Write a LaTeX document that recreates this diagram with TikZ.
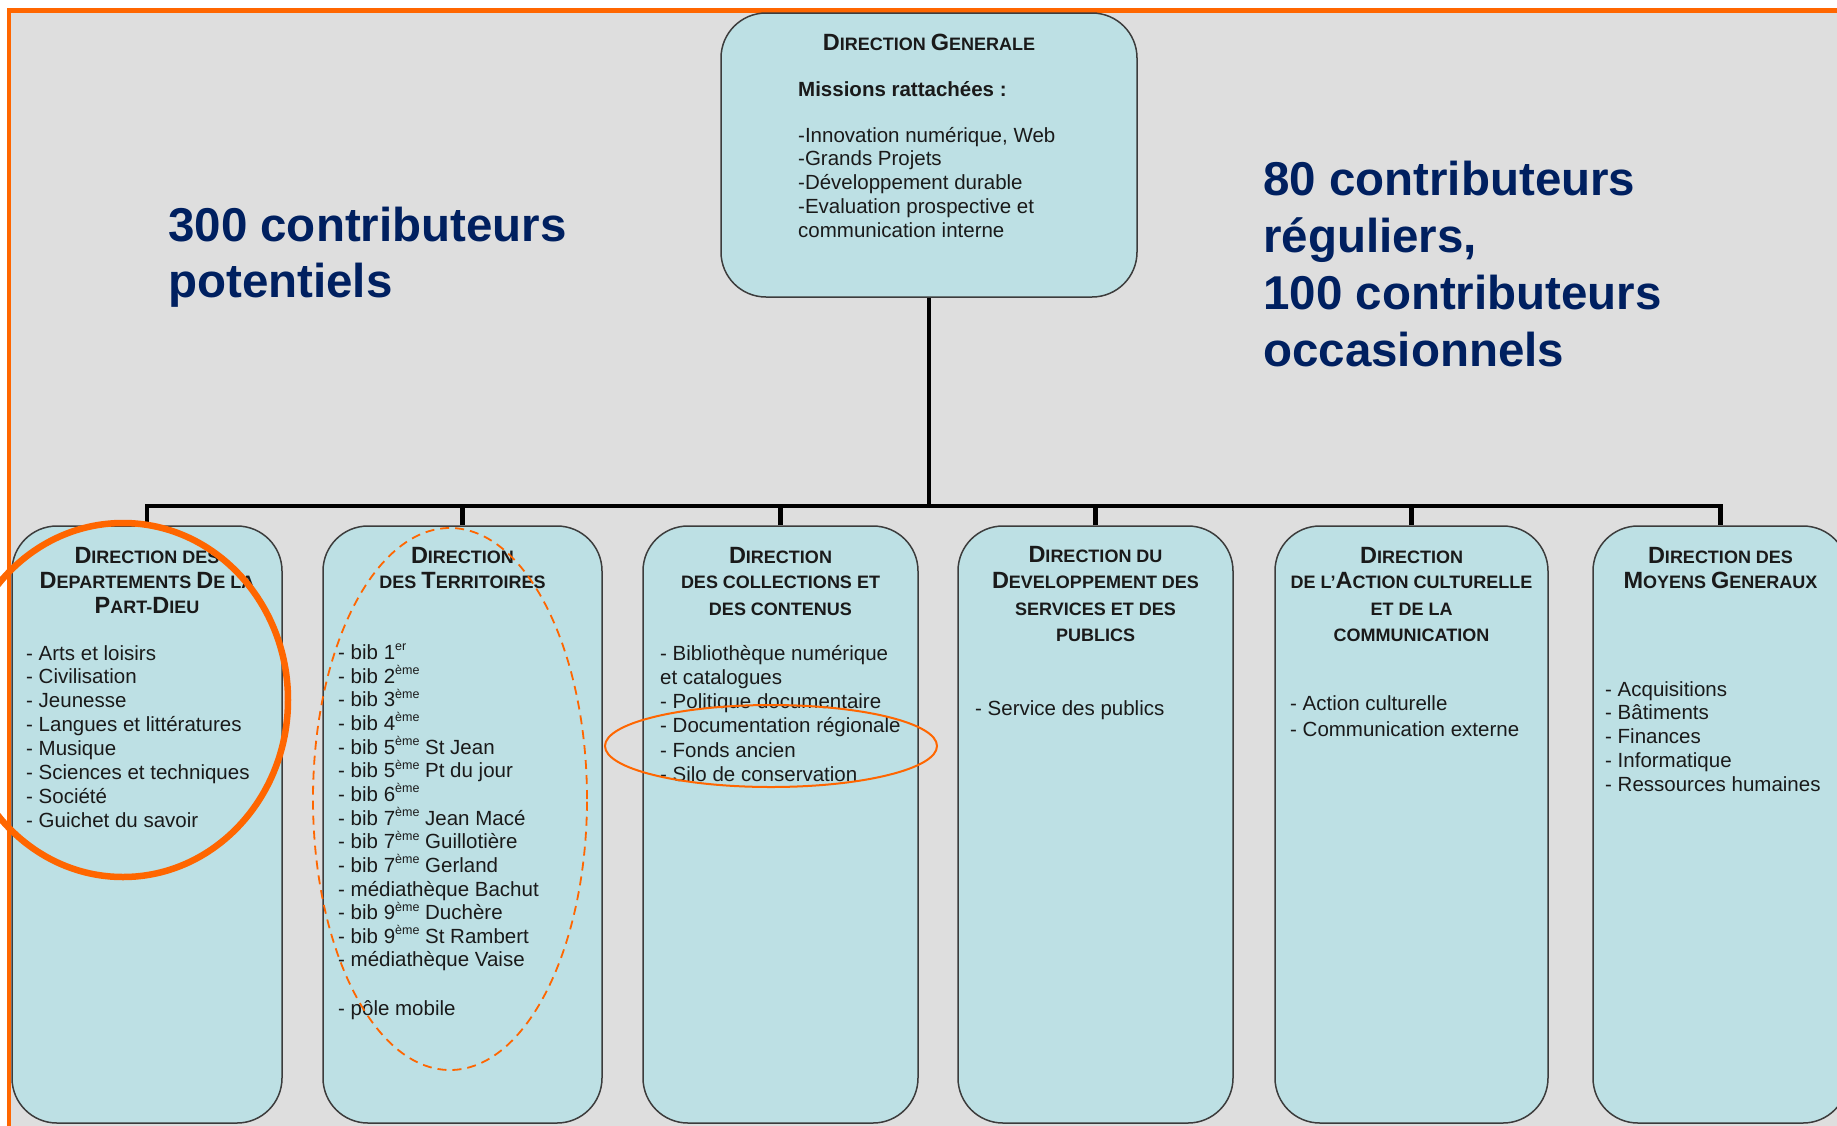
\documentclass[tikz,border=0pt]{standalone}
\usepackage{fontspec}
\setmainfont{Liberation Sans}
\definecolor{bg}{HTML}{DEDEDE}
\definecolor{boxfill}{HTML}{BDE0E4}
\definecolor{boxline}{HTML}{3C3C3C}
\definecolor{orng}{HTML}{FF6600}
\definecolor{navy}{HTML}{002060}
\definecolor{txt}{HTML}{1A1A1A}
\newcommand\Bc[1]{{\fontsize{23.5}{25}\selectfont #1}}
\newcommand\supx[1]{\raisebox{0.42em}{\fontsize{12.5}{12.5}\selectfont #1}}
\tikzset{
  boxst/.style={draw=boxline, line width=1.5pt, fill=boxfill, rounded corners=45pt, inner sep=0pt},
  ttl/.style={font=\fontsize{18}{25}\selectfont\bfseries, text=txt, inner sep=0pt, anchor=base},
  lst/.style={font=\fontsize{20.5}{24}\selectfont, text=txt, inner sep=0pt, anchor=base west},
  big/.style={font=\fontsize{47.5}{52}\selectfont\bfseries, text=navy, inner sep=0pt, anchor=base west},
  conn/.style={line width=4.5pt, draw=black},
  ringst/.style={draw=orng}
}
\begin{document}
\begin{tikzpicture}[x=1pt,y=-1pt]
\useasboundingbox (0,0) rectangle (1837,1125);
\clip (0,0) rectangle (1837,1125);
\fill[white] (0,0) rectangle (1837,1125);
\fill[bg] (9,10.5) rectangle (1900,1200);
\draw[orng, line width=4.3pt] (9,1200) -- (9,10.5) -- (1900,10.5);

% boxes
\node[boxst, minimum width=416pt, minimum height=284pt] (dg) at (929,155) {};
\node[boxst, minimum width=270pt, minimum height=597pt] (b1) at (147,824.5) {};
\node[boxst, minimum width=279pt, minimum height=597pt] (b2) at (462.5,824.5) {};
\node[boxst, minimum width=275pt, minimum height=597pt] (b3) at (780.5,824.5) {};
\node[boxst, minimum width=275pt, minimum height=597pt] (b4) at (1095.5,824.5) {};
\node[boxst, minimum width=273pt, minimum height=597pt] (b5) at (1411.5,824.5) {};
\node[boxst, minimum width=255pt, minimum height=597pt] (b6) at (1720.5,824.5) {};

% connectors
\coordinate (bus) at (929,506);
\draw[conn] (dg.south) -- (dg.south |- bus);
\draw[conn] (b1.north) |- (bus) -| (b6.north);
\foreach \b in {b2,b3,b4,b5} \draw[conn] (\b.north) -- (\b.north |- bus);

% DG text
\node[ttl] (dgt) at (929,50) {\Bc{D}IRECTION \Bc{G}ENERALE};
\node[lst, font=\fontsize{20.5}{24}\selectfont\bfseries] (dgm) at (798,96) {Missions rattachées :};
\foreach \t [count=\i] in {{-Innovation numérique, Web},{-Grands Projets},{-Développement durable},{-Evaluation prospective et},{communication interne}}
  \node[lst] (dgl\i) at (798,{142+23.8*(\i-1)}) {\t};

% big texts
\node[big] (pot1) at (168,241) {300 contributeurs};
\node[big] (pot2) at (168,297) {potentiels};
\node[big] (reg1) at (1263,195) {80 contributeurs};
\node[big] (reg2) at (1263,252) {réguliers,};
\node[big] (reg3) at (1263,309) {100 contributeurs};
\node[big] (reg4) at (1263,366) {occasionnels};

% box 1
\node[ttl] (t1a) at (147,563) {\Bc{D}IRECTION DES};
\node[ttl] (t1b) at (147,588) {\Bc{D}EPARTEMENTS \Bc{D}E LA};
\node[ttl] (t1c) at (147,613) {\Bc{P}ART-\Bc{D}IEU};
\foreach \t [count=\i] in {{- Arts et loisirs},{- Civilisation},{- Jeunesse},{- Langues et littératures},{- Musique},{- Sciences et techniques},{- Société},{- Guichet du savoir}}
  \node[lst] (l1\i) at (26,{660+23.9*(\i-1)}) {\t};

% box 2
\node[ttl] (t2a) at (462.5,563) {\Bc{D}IRECTION};
\node[ttl] (t2b) at (462.5,588) {DES \Bc{T}ERRITOIRES};
\foreach \t [count=\i] in {{- bib 1\supx{er}},{- bib 2\supx{ème}},{- bib 3\supx{ème}},{- bib 4\supx{ème}},{- bib 5\supx{ème} St Jean},{- bib 5\supx{ème} Pt du jour},{- bib 6\supx{ème}},{- bib 7\supx{ème} Jean Macé},{- bib 7\supx{ème} Guillotière},{- bib 7\supx{ème} Gerland},{- médiathèque Bachut},{- bib 9\supx{ème} Duchère},{- bib 9\supx{ème} St Rambert},{- médiathèque Vaise}}
  \node[lst] (l2\i) at (338,{659.5+23.65*(\i-1)}) {\t};
\node[lst] (l2p) at (338,1015) {- pôle mobile};

% box 3
\node[ttl] (t3a) at (780.5,563) {\Bc{D}IRECTION};
\node[ttl] (t3b) at (780.5,588) {DES COLLECTIONS ET};
\node[ttl] (t3c) at (780.5,615) {DES CONTENUS};
\foreach \t [count=\i] in {{- Bibliothèque numérique},{et catalogues},{- Politique documentaire},{- Documentation régionale},{- Fonds ancien},{- Silo de conservation}}
  \node[lst] (l3\i) at (660,{660+24.3*(\i-1)}) {\t};

% box 4
\node[ttl] (t4a) at (1095.5,562) {\Bc{D}IRECTION DU};
\node[ttl] (t4b) at (1095.5,588) {\Bc{D}EVELOPPEMENT DES};
\node[ttl] (t4c) at (1095.5,615) {SERVICES ET DES};
\node[ttl] (t4d) at (1095.5,641) {PUBLICS};
\node[lst] (l41) at (975,715) {- Service des publics};

% box 5
\node[ttl] (t5a) at (1411.5,563) {\Bc{D}IRECTION};
\node[ttl] (t5b) at (1411.5,588) {DE L’\Bc{A}CTION CULTURELLE};
\node[ttl] (t5c) at (1411.5,615) {ET DE LA};
\node[ttl] (t5d) at (1411.5,641) {COMMUNICATION};
\node[lst] (l51) at (1290,710) {- Action culturelle};
\node[lst] (l52) at (1290,736) {- Communication externe};

% box 6
\node[ttl] (t6a) at (1720.5,563) {\Bc{D}IRECTION DES};
\node[ttl] (t6b) at (1720.5,588) {\Bc{M}OYENS \Bc{G}ENERAUX};
\foreach \t [count=\i] in {{- Acquisitions},{- Bâtiments},{- Finances},{- Informatique},{- Ressources humaines}}
  \node[lst] (l6\i) at (1605,{696+23.8*(\i-1)}) {\t};

% orange highlights
\draw[ringst, line width=6.5pt] (123,700) ellipse [x radius=165pt, y radius=177pt];
\draw[ringst, line width=1.8pt, dash pattern=on 9pt off 6pt] (450,799) ellipse [x radius=137pt, y radius=271pt];
\draw[ringst, line width=2pt] (771,746) ellipse [x radius=166pt, y radius=41pt];
\end{tikzpicture}
\end{document}
